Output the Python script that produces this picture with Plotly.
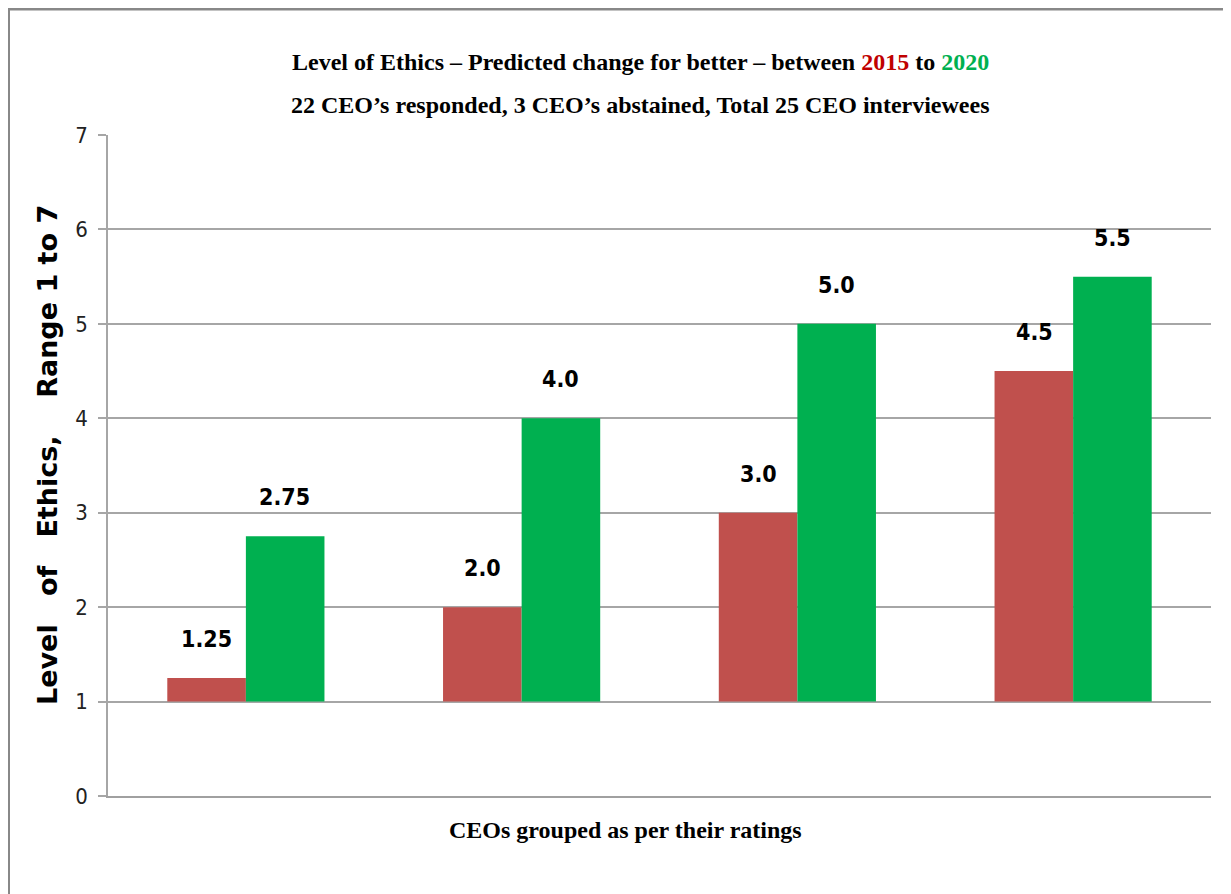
import plotly.graph_objects as go

categories = ["Group 1", "Group 2", "Group 3", "Group 4"]
values_2015 = [1.25, 2.0, 3.0, 4.5]
values_2020 = [2.75, 4.0, 5.0, 5.5]
labels_2015 = ["1.25", "2.0", "3.0", "4.5"]
labels_2020 = ["2.75", "4.0", "5.0", "5.5"]
y_ticks = [0, 1, 2, 3, 4, 5, 6, 7]
base_value = 1

RED = "#C0504D"
GREEN = "#00B050"
OFF = 8  # browser body margin
W, H = 1231 - OFF, 894 - OFF
ML, MR, MT, MB = 100, 20, 127, 98
PW = W - ML - MR
PH = H - MT - MB


def px_to_paper_x(px):
    # px is a screen pixel coordinate
    return (px - OFF - ML) / PW


def px_to_paper_y(py):
    return (H - MB - (py - OFF)) / PH


fig = go.Figure()
fig.add_trace(go.Bar(
    x=categories, y=[v - base_value for v in values_2015], base=base_value,
    name="2015", marker=dict(color=RED, line=dict(width=0)),
    hoverinfo="skip"))
fig.add_trace(go.Bar(
    x=categories, y=[v - base_value for v in values_2020], base=base_value,
    name="2020", marker=dict(color=GREEN, line=dict(width=0)),
    hoverinfo="skip"))

NARROW = "DejaVu Sans Condensed, Lato, sans-serif"
label_font = dict(family=NARROW, size=23, color="#000000")
annotations = []
for c, v, t in zip(categories, values_2015, labels_2015):
    annotations.append(dict(x=c, y=v, xref="x", yref="y", text="<b>" + t + "</b>",
                            showarrow=False, xshift=-39, yshift=39, font=label_font))
for c, v, t in zip(categories, values_2020, labels_2020):
    annotations.append(dict(x=c, y=v, xref="x", yref="y", text="<b>" + t + "</b>",
                            showarrow=False, xshift=39, yshift=39, font=label_font))

title_font = dict(family="Liberation Serif", size=24, color="#000000")
annotations.append(dict(
    x=px_to_paper_x(640), y=px_to_paper_y(62), xref="paper", yref="paper",
    text="<b>Level of Ethics – Predicted change for better – between "
         "<span style='color:#C00000'>2015</span> to "
         "<span style='color:#00B050'>2020</span></b>",
    showarrow=False, font=title_font, xanchor="center", yanchor="middle"))
annotations.append(dict(
    x=px_to_paper_x(640), y=px_to_paper_y(105), xref="paper", yref="paper",
    text="<b>22 CEO’s responded, 3 CEO’s abstained, Total 25 CEO interviewees</b>",
    showarrow=False, font=title_font, xanchor="center", yanchor="middle"))
annotations.append(dict(
    x=px_to_paper_x(625), y=px_to_paper_y(830), xref="paper", yref="paper",
    text="<b>CEOs grouped as per their ratings</b>",
    showarrow=False, font=title_font, xanchor="center", yanchor="middle"))
nb = "\u00a0"
ytitle = "Level" + nb * 3 + "of" + nb * 3 + "Ethics," + nb * 4 + "Range 1 to 7"
annotations.append(dict(
    x=px_to_paper_x(48), y=px_to_paper_y(455), xref="paper", yref="paper",
    text="<b>" + ytitle + "</b>", textangle=-90,
    showarrow=False, font=dict(family="DejaVu Sans", size=27, color="#000000"),
    xanchor="center", yanchor="middle"))

shapes = [
    dict(type="line", xref="paper", yref="paper",
         x0=px_to_paper_x(8), x1=px_to_paper_x(1240),
         y0=px_to_paper_y(9), y1=px_to_paper_y(9),
         line=dict(color="#888888", width=3)),
    dict(type="line", xref="paper", yref="paper",
         x0=px_to_paper_x(9), x1=px_to_paper_x(9),
         y0=px_to_paper_y(8), y1=px_to_paper_y(900),
         line=dict(color="#888888", width=2)),
]

fig.update_layout(
    width=W, height=H,
    margin=dict(l=ML, r=MR, t=MT, b=MB),
    paper_bgcolor="white", plot_bgcolor="white",
    barmode="group", bargap=0.43, bargroupgap=0,
    showlegend=False,
    annotations=annotations, shapes=shapes,
    xaxis=dict(showticklabels=False, showgrid=False, ticks="",
               showline=True, linecolor="#A0A0A0", linewidth=2),
    yaxis=dict(range=[0, 7], tickvals=y_ticks, showgrid=True,
               gridcolor="#A6A6A6", gridwidth=1.5,
               showline=True, linecolor="#A6A6A6", linewidth=1.5,
               ticks="outside", ticklen=8, tickcolor="#A6A6A6", tickwidth=1.5,
               ticklabelstandoff=6,
               tickfont=dict(family=NARROW, size=22, color="#222222"),
               zeroline=False),
)

fig.write_html("out.html")
